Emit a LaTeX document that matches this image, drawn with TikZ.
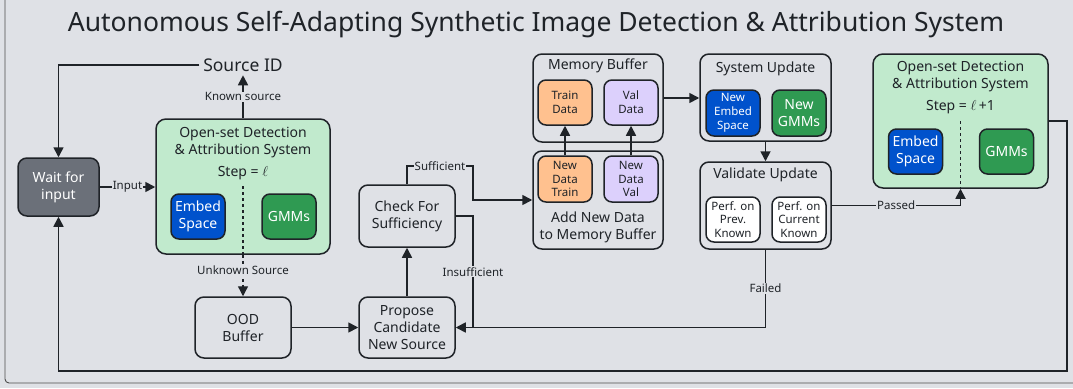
\documentclass[tikz,border=0pt]{standalone}
\usepackage{fontspec}
\setmainfont{Noto Sans}
\usetikzlibrary{arrows.meta, positioning}

\definecolor{bgcol}{HTML}{DFE1E6}
\definecolor{inkcol}{HTML}{1F2328}
\definecolor{waitcol}{HTML}{6B7079}
\definecolor{osdcol}{HTML}{C1EACD}
\definecolor{embcol}{HTML}{0052CC}
\definecolor{gmmcol}{HTML}{2F9A52}
\definecolor{traincol}{HTML}{FFC18F}
\definecolor{valcol}{HTML}{DCD0FC}

\begin{document}
\begin{tikzpicture}[
            x = 1pt, y = -1pt, % pixel grid, y grows downwards
            > = {Triangle[length=10pt, width=10pt]}, % arrow head style
            line width = 1.7pt, % connector style
            color = inkcol,
            font = \fontsize{14}{17}\selectfont
        ]

        \tikzstyle{box}=[
            draw,
            line width = 1.5pt,
            rounded corners = 9pt,
            fill = bgcol,
            align = center,
            inner sep = 2pt
        ]
        \tikzstyle{panel}=[box, rounded corners = 10pt]
        \tikzstyle{chip}=[box, rounded corners = 8pt, minimum width = 54pt, minimum height = 45pt,
            font = \fontsize{11.5}{13.8}\selectfont]
        \tikzstyle{embed}=[chip, fill = embcol, text = white, font = \fontsize{14}{17}\selectfont]
        \tikzstyle{gmm}=[chip, fill = gmmcol, text = white, font = \fontsize{14}{17}\selectfont]
        \tikzstyle{perf}=[chip, fill = white, font = \fontsize{11.5}{13.8}\selectfont]
        \tikzstyle{lbl}=[fill = bgcol, inner sep = 1pt, font = \fontsize{11.5}{13}\selectfont]

        % canvas
        \useasboundingbox (0,0) rectangle (1073,388);
        \clip (0,0) rectangle (1073,388);
        \fill[bgcol] (0,0) rectangle (1073,388);
        \draw[line width = 0.9pt, color = black!70, rounded corners = 4pt] (5,-20) rectangle (1100,383);

        \node[font = \fontsize{26.5}{30}\selectfont] (title) at (536,25)
            {Autonomous Self-Adapting Synthetic Image Detection \& Attribution System};

        % left part
        \node[box, fill = waitcol, text = white, minimum width = 81pt, minimum height = 58pt] (wait) at (58.5,187) {Wait for\\input};
        \node[font = \fontsize{17.5}{20}\selectfont, inner sep = 3pt] (srcid) at (243,65) {Source ID};

        \node[panel, fill = osdcol, minimum width = 174pt, minimum height = 135pt] (osd1) at (243,186.5) {};
        \node[align = center] (osd1 title) at (243,143) {Open-set Detection\\\& Attribution System};
        \node (osd1 step) at (243,173) {Step = $\ell$};
        \node[embed] (emb1) at (198,216.5) {Embed\\Space};
        \node[gmm] (gmm1) at (289,216.5) {GMMs};
        \coordinate (dash1) at (243,186);

        \node[box, minimum width = 96pt, minimum height = 61pt] (ood) at (243,327.5) {OOD\\Buffer};
        \node[box, minimum width = 96pt, minimum height = 61pt] (propose) at (407,327.5) {Propose\\Candidate\\New Source};
        \node[box, minimum width = 96pt, minimum height = 62pt] (check) at (407,216) {Check For\\Sufficiency};

        % memory buffer
        \node[box, minimum width = 130pt, minimum height = 88pt] (membuf) at (598,98) {};
        \node (membuf title) at (598,66) {Memory Buffer};
        \node[chip, fill = traincol] (train) at (565,102.5) {Train\\Data};
        \node[chip, fill = valcol] (val) at (631,102.5) {Val\\Data};

        \node[box, minimum width = 130pt, minimum height = 98pt] (addbuf) at (598,200) {};
        \node[align = center] (addbuf title) at (598,227) {Add New Data\\to Memory Buffer};
        \node[chip, fill = traincol, minimum height = 46pt] (ndtrain) at (565,179) {New\\Data\\Train};
        \node[chip, fill = valcol, minimum height = 46pt] (ndval) at (631,179) {New\\Data\\Val};

        % update and validation
        \node[box, minimum width = 131pt, minimum height = 87pt] (sysupd) at (765.5,97.5) {};
        \node (sysupd title) at (765.5,69) {System Update};
        \node[embed, minimum height = 46pt, font = \fontsize{11.5}{13.8}\selectfont] (newemb) at (733,113) {New\\Embed\\Space};
        \node[gmm, minimum height = 46pt] (newgmm) at (799,113) {New\\GMMs};

        \node[box, minimum width = 131pt, minimum height = 87pt] (validate) at (765.5,205.5) {};
        \node (validate title) at (765.5,175) {Validate Update};
        \node[perf] (perfprev) at (733,219.5) {Perf. on\\Prev.\\Known};
        \node[perf] (perfcur) at (799,219.5) {Perf. on\\Current\\Known};

        % next step system
        \node[panel, fill = osdcol, minimum width = 175pt, minimum height = 134pt] (osd2) at (960.5,121) {};
        \node[align = center] (osd2 title) at (960.5,77) {Open-set Detection\\\& Attribution System};
        \node (osd2 step) at (960.5,107) {Step = $\ell$\,+1};
        \node[embed] (emb2) at (915.5,151.5) {Embed\\Space};
        \node[gmm] (gmm2) at (1006.5,151.5) {GMMs};
        \coordinate (dash2) at (960.5,121);

        \coordinate (join) at (473,327.5);
        \coordinate (loop) at (1067,371);

        \draw[->] (wait.east) -- node[lbl] {Input} (wait.east -| osd1.west);
        \draw[->] (osd1.north) -- node[lbl] {Known source} (srcid.south);
        \draw[->] (srcid.west) -| (wait.north);
        \draw[dashed, line width = 1.3pt] (dash1) -- (osd1.south);
        \draw[dashed, line width = 1.3pt, ->] (osd1.south) -- node[lbl, pos = 0.38] {Unknown Source} (ood.north);
        \draw[->] (ood) -- (propose);
        \draw[->] (propose) -- (check);
        \draw[->] (check.north) |- node[lbl, pos = 0.75] {Sufficient} (473,166) |- (addbuf.west);
        \draw (check.east) -| node[lbl, pos = 0.75] {Insufficient} (join);
        \draw[->] (ndtrain) -- (train);
        \draw[->] (ndval) -- (val);
        \draw[->] (membuf.east) -- (membuf.east -| sysupd.west);
        \draw[->] (sysupd) -- (validate);
        \draw[->] (validate.south) |- node[lbl, pos = 0.25] {Failed} (propose.east);
        \draw[->] (validate.east) -| node[lbl, pos = 0.25] {Passed} (osd2.south);
        \draw[dashed, line width = 1.3pt] (dash2) -- (osd2.south);
        \draw[->] (osd2.east) -| (loop) -| (wait.south);
    \end{tikzpicture}
\end{document}
